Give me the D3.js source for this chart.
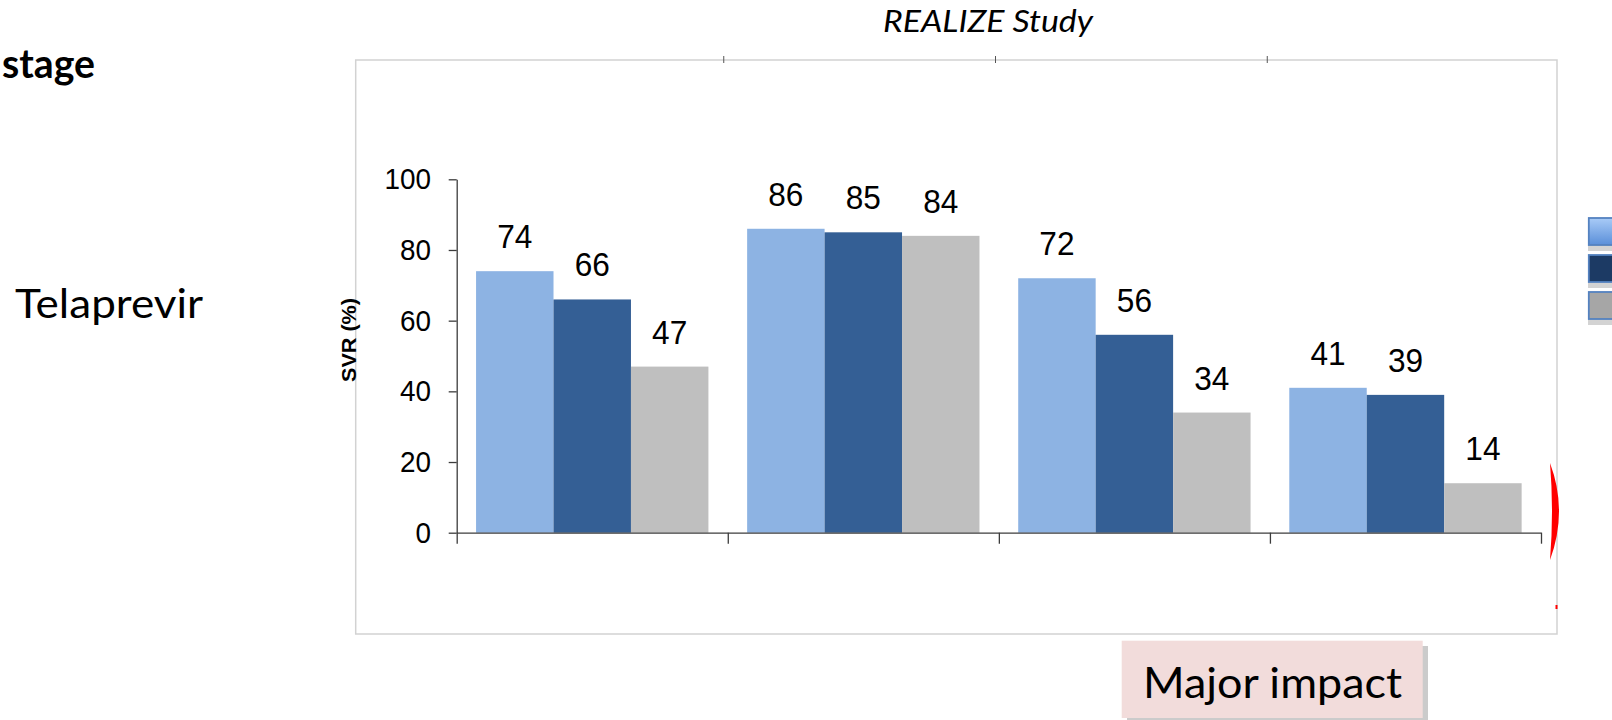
<!DOCTYPE html>
<html>
<head>
<meta charset="utf-8">
<script src="https://cdn.jsdelivr.net/npm/d3@7"></script>
<style>
  html, body { margin: 0; padding: 0; background: #ffffff; overflow: hidden; }
  svg { display: block; }
</style>
</head>
<body>
<svg id="chart" width="1612" height="720"></svg>
<script>
// ---- Data ----
const categories = ["Overall", "Prior relapsers", "Prior partial responders", "Prior null responders"];
const seriesNames = ["No, minimal or portal fibrosis", "Bridging fibrosis", "Cirrhosis"];
const svrMildFibrosis = [74, 86, 72, 41];
const svrBridgingFibrosis = [66, 85, 56, 39];
const svrCirrhosis = [47, 84, 34, 14];
const yTickValues = [0, 20, 40, 60, 80, 100];
const titleText = "REALIZE Study";
const yAxisTitle = "SVR (%)";
const drugLabel = "Telaprevir";
const headingText = "stage";
const calloutText = "Major impact";

// ---- Styles ----
const barColors = ["#8db3e3", "#345f95", "#bfbfbf"];
const swatchFills = ["url(#swatchGrad)", "#1c3a64", "#a6a6a6"];
const slideFont = "Lato, 'Open Sans', sans-serif";
const chartFont = "'Liberation Sans', Arial, sans-serif";
const axisColor = "#3c3c3c";

const seriesValues = [svrMildFibrosis, svrBridgingFibrosis, svrCirrhosis];
const table = categories.map((c, i) => ({
  category: c,
  values: seriesNames.map((s, j) => ({ series: s, value: seriesValues[j][i], idx: j }))
}));

const svg = d3.select("#chart");

const defs = svg.append("defs");
const grad = defs.append("linearGradient").attr("id", "swatchGrad")
  .attr("x1", 0).attr("y1", 0).attr("x2", 0).attr("y2", 1);
grad.append("stop").attr("offset", "0%").attr("stop-color", "#a9cbf7");
grad.append("stop").attr("offset", "100%").attr("stop-color", "#5a8fd9");

// ---- Scales ----
const x0 = d3.scaleBand().domain(categories).range([456.7, 1541]).padding(0);
const x1 = d3.scaleBand().domain(seriesNames).range([0, x0.bandwidth()])
  .paddingInner(0).paddingOuter(0.25);
const y = d3.scaleLinear().domain([0, 100]).range([532.7, 179.3]);

// ---- Chart frame ----
svg.append("rect")
  .attr("x", 355.7).attr("y", 60).attr("width", 1201.3).attr("height", 574)
  .attr("fill", "none").attr("stroke", "#d2d2d2").attr("stroke-width", 1.5);

// small marks on the frame top, one per category boundary
const topMarks = d3.scaleLinear().domain([0, categories.length]).range([452, 1539]);
svg.append("g").selectAll("line")
  .data(d3.range(1, categories.length))
  .join("line")
  .attr("x1", d => topMarks(d)).attr("x2", d => topMarks(d))
  .attr("y1", 56).attr("y2", 63)
  .attr("stroke", "#555").attr("stroke-width", 1);

// ---- Bars ----
const groups = svg.append("g").selectAll("g")
  .data(table)
  .join("g")
  .attr("transform", d => `translate(${x0(d.category)},0)`);

groups.selectAll("rect")
  .data(d => d.values)
  .join("rect")
  .attr("x", d => x1(d.series))
  .attr("y", d => y(d.value))
  .attr("width", x1.bandwidth())
  .attr("height", d => y(0) - y(d.value))
  .attr("fill", d => barColors[d.idx]);

// value labels
groups.selectAll("text")
  .data(d => d.values)
  .join("text")
  .attr("transform", d => `translate(${x1(d.series) + x1.bandwidth() / 2},${y(d.value) - 23}) scale(0.93,1)`)
  .attr("text-anchor", "middle")
  .attr("font-family", chartFont)
  .attr("font-size", 34)
  .attr("fill", "#000")
  .text(d => d.value);

// ---- Axes ----
const yAxis = svg.append("g")
  .attr("transform", `translate(${x0.range()[0]},0)`)
  .call(d3.axisLeft(y).tickValues(yTickValues).tickSize(8).tickSizeOuter(0));
yAxis.select(".domain").attr("stroke", axisColor).attr("stroke-width", 1.3);
yAxis.selectAll(".tick line").attr("stroke", axisColor).attr("stroke-width", 1.3);
yAxis.selectAll(".tick text")
  .attr("x", -25.7 / 0.93)
  .attr("transform", "scale(0.93,1)")
  .attr("font-family", chartFont)
  .attr("font-size", 30)
  .attr("fill", "#000");

const boundary = d3.scaleLinear().domain([0, categories.length]).range(x0.range());
const xAxis = svg.append("g")
  .attr("transform", `translate(0,${y(0)})`)
  .call(d3.axisBottom(boundary).tickValues(d3.range(0, categories.length + 1))
    .tickSize(11).tickSizeOuter(0).tickFormat(""));
xAxis.select(".domain").attr("stroke", axisColor).attr("stroke-width", 1.3);
xAxis.selectAll(".tick line").attr("stroke", axisColor).attr("stroke-width", 1.3);

// y-axis title
svg.append("text")
  .attr("transform", "translate(356,340) rotate(-90)")
  .attr("text-anchor", "middle")
  .attr("font-family", chartFont)
  .attr("font-weight", "bold")
  .attr("font-size", 20)
  .attr("textLength", 84)
  .attr("lengthAdjust", "spacingAndGlyphs")
  .text(yAxisTitle);

// ---- Slide text ----
svg.append("text")
  .attr("x", 988).attr("y", 32)
  .attr("text-anchor", "middle")
  .attr("font-family", slideFont)
  .attr("font-style", "italic")
  .attr("font-size", 30)
  .attr("textLength", 210)
  .attr("lengthAdjust", "spacingAndGlyphs")
  .text(titleText);

svg.append("text")
  .attr("x", 2).attr("y", 78)
  .attr("font-family", slideFont)
  .attr("font-weight", "bold")
  .attr("font-size", 40)
  .attr("textLength", 93)
  .attr("lengthAdjust", "spacingAndGlyphs")
  .text(headingText);

svg.append("text")
  .attr("x", 15).attr("y", 318)
  .attr("font-family", slideFont)
  .attr("font-size", 40)
  .attr("textLength", 188)
  .attr("lengthAdjust", "spacingAndGlyphs")
  .text(drugLabel);

// ---- Legend swatches (right edge) ----
const legendY = d3.scaleBand().domain(seriesNames).range([218, 319]).paddingInner(0.27);
const legend = svg.append("g").selectAll("g")
  .data(seriesNames)
  .join("g")
  .attr("transform", d => `translate(1588,${legendY(d)})`);
legend.append("rect")
  .attr("x", 0).attr("y", 5)
  .attr("width", 60).attr("height", legendY.bandwidth() + 1)
  .attr("fill", "#d3d3d3");
legend.append("rect")
  .attr("x", 0.8).attr("y", 0)
  .attr("width", 60).attr("height", legendY.bandwidth())
  .attr("fill", (d, i) => swatchFills[i])
  .attr("stroke", "#5482c0").attr("stroke-width", 1.8);

// ---- Red highlight edge ----
svg.append("path")
  .attr("d", "M1550,463 Q1568,511 1550,560 Q1554,511 1550,463 Z")
  .attr("fill", "#ff0000");
svg.append("rect")
  .attr("x", 1555.5).attr("y", 605).attr("width", 2).attr("height", 4)
  .attr("fill", "#ff0000");

// ---- Callout ----
svg.append("rect")
  .attr("x", 1127).attr("y", 646).attr("width", 301).attr("height", 80)
  .attr("fill", "#cbcbcb");
svg.append("rect")
  .attr("x", 1121.7).attr("y", 640.7).attr("width", 301).attr("height", 77.3)
  .attr("fill", "#f2dcdb");
svg.append("text")
  .attr("x", 1143).attr("y", 698)
  .attr("font-family", slideFont)
  .attr("font-size", 42)
  .attr("textLength", 259)
  .attr("lengthAdjust", "spacingAndGlyphs")
  .attr("fill", "#000")
  .text(calloutText);
</script>
</body>
</html>
